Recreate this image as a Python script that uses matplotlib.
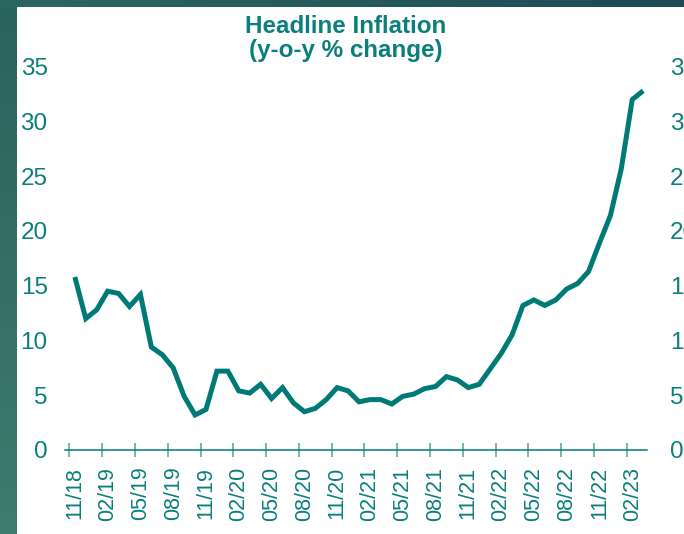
import numpy as np
import pandas as pd
import matplotlib
matplotlib.use('Agg')
import matplotlib.pyplot as plt
from matplotlib import rcParams
from matplotlib.colors import LinearSegmentedColormap

rcParams['font.family'] = 'sans-serif'
rcParams['font.sans-serif'] = ['Liberation Sans', 'DejaVu Sans']

TEAL = '#007A76'
TEXT_TEAL = '#0A7F7B'

# monthly headline inflation, y-o-y %, Nov 2018 - Mar 2023
months = pd.period_range('2018-11', '2023-03', freq='M')
inflation = [15.8, 12.0, 12.8, 14.5, 14.3, 13.1, 14.2, 9.4, 8.7, 7.5,
             4.9, 3.2, 3.7, 7.2, 7.2, 5.4, 5.2, 6.0, 4.7, 5.7,
             4.3, 3.5, 3.8, 4.6, 5.7, 5.4, 4.4, 4.6, 4.6, 4.2,
             4.9, 5.1, 5.6, 5.8, 6.7, 6.4, 5.7, 6.0, 7.4, 8.8,
             10.5, 13.2, 13.7, 13.2, 13.7, 14.7, 15.2, 16.3, 18.9, 21.4,
             25.7, 32.0, 32.8]

tick_labels = ['11/18', '02/19', '05/19', '08/19', '11/19', '02/20', '05/20',
               '08/20', '11/20', '02/21', '05/21', '08/21', '11/21', '02/22',
               '05/22', '08/22', '11/22', '02/23']
y_ticks = [0, 5, 10, 15, 20, 25, 30, 35]

W, H = 684, 534
fig = plt.figure(figsize=(W / 100, H / 100), dpi=100, facecolor='white')

# dark frame strips along the left and top edges
band_l = fig.add_axes([0, 0, 17 / W, 1])
grad = np.linspace(0, 1, 256).reshape(-1, 1)
band_l.imshow(grad, aspect='auto', origin='upper',
              cmap=LinearSegmentedColormap.from_list('l', ['#2A625D', '#3F7B6F']),
              extent=[0, 1, 0, 1])
band_l.set_axis_off()

band_t = fig.add_axes([0, 1 - 7 / H, 1, 7 / H])
band_t.imshow(grad.T, aspect='auto',
              cmap=LinearSegmentedColormap.from_list('t', ['#2C6862', '#1D4A53']),
              extent=[0, 1, 0, 1])
band_t.set_axis_off()

ax = fig.add_axes([65 / W, 84 / H, 582 / W, (450 - 66.7) / H])
x = np.arange(len(months))
ax.plot(x, inflation, color=TEAL, lw=3.6, solid_joinstyle='miter',
        solid_capstyle='butt', zorder=3)

ax.set_xlim(-0.9, 52.35)
ax.set_ylim(0, 35)

for side in ['top', 'left', 'right']:
    ax.spines[side].set_visible(False)
ax.spines['bottom'].set_color(TEAL)
ax.spines['bottom'].set_linewidth(1.1)

# labels sit on the months, tick marks on the quarter boundaries
ax.set_xticks(x[::3])
ax.set_xticklabels(tick_labels, rotation=90, fontsize=15.5, color=TEXT_TEAL)
ax.tick_params(axis='x', which='major', length=0, pad=12)
ax.set_xticks(x[::3] - 0.5, minor=True)
ax.tick_params(axis='x', which='minor', direction='inout', length=10,
               width=1.1, color='#4FA3A0')

ax.set_yticks(y_ticks)
ax.tick_params(axis='y', length=0, pad=12.5, labelsize=17.5, labelcolor=TEXT_TEAL)

ax2 = ax.twinx()
ax2.set_ylim(ax.get_ylim())
ax2.set_yticks(y_ticks)
ax2.tick_params(axis='y', length=0, pad=16.5, labelsize=17.5, labelcolor=TEXT_TEAL)
for side in ax2.spines:
    ax2.spines[side].set_visible(False)

fig.text(346 / W, 1 - 33.3 / H, 'Headline Inflation', ha='center', va='baseline',
         fontsize=17.4, fontweight='bold', color=TEXT_TEAL)
fig.text(346 / W, 1 - 56.5 / H, '(y-o-y % change)', ha='center', va='baseline',
         fontsize=17.4, fontweight='bold', color=TEXT_TEAL)

fig.savefig('out.png', dpi=100, facecolor='white')
